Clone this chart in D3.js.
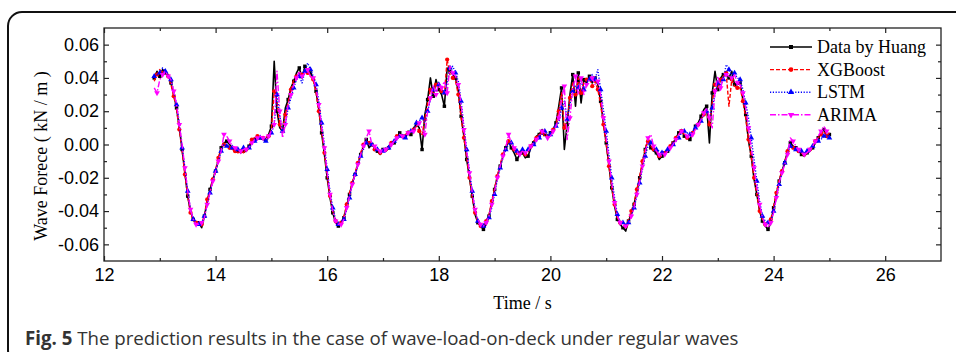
<!DOCTYPE html>
<html>
<head>
<meta charset="utf-8">
<script src="https://cdn.jsdelivr.net/npm/d3@7"></script>
<style>
  body { margin: 0; background: #fff; }
  svg { display: block; }
</style>
</head>
<body>
<div id="chart"></div>
<script>
// sample times: first point and step (s)
var t0 = 12.9;
var dt = 0.05;

// wave force (kN/m), one value every 0.05 s from 12.90 to 25.00
var huang = [
  0.040, 0.044, 0.041, 0.045, 0.043, 0.042, 0.037, 0.030, 0.022, 0.010,
  -0.003, -0.017, -0.031, -0.040, -0.045, -0.048, -0.047, -0.050, -0.043, -0.034,
  -0.027, -0.021, -0.016, -0.009, -0.002, 0.001, 0.002, 0.000, -0.002, -0.003,
  -0.004, -0.005, -0.004, -0.004, -0.001, 0.002, 0.003, 0.004, 0.004, 0.003,
  0.003, 0.006, 0.011, 0.050, 0.020, 0.010, 0.008, 0.022, 0.027, 0.034,
  0.038, 0.043, 0.046, 0.040, 0.047, 0.044, 0.043, 0.040, 0.032, 0.021,
  0.007, -0.006, -0.020, -0.032, -0.041, -0.047, -0.049, -0.048, -0.044, -0.037,
  -0.030, -0.023, -0.018, -0.012, -0.006, -0.001, 0.003, -0.002, 0.000, -0.002,
  -0.004, -0.006, -0.003, -0.004, -0.002, 0.000, 0.001, 0.004, 0.007, 0.004,
  0.005, 0.008, 0.006, 0.010, 0.012, 0.010, -0.003, 0.018, 0.027, 0.040,
  0.029, 0.039, 0.033, 0.030, 0.023, 0.046, 0.044, 0.042, 0.040, 0.032,
  0.017, 0.005, -0.009, -0.020, -0.031, -0.042, -0.047, -0.049, -0.051, -0.048,
  -0.043, -0.035, -0.027, -0.019, -0.013, -0.007, -0.002, 0.002, -0.002, -0.005,
  -0.009, -0.006, -0.005, -0.008, -0.007, -0.002, 0.001, 0.005, 0.006, 0.009,
  0.006, 0.004, 0.007, 0.009, 0.013, 0.023, 0.034, -0.003, 0.012, 0.030,
  0.042, 0.023, 0.043, 0.025, 0.039, 0.037, 0.041, 0.037, 0.040, 0.036,
  0.026, 0.013, 0.001, -0.013, -0.026, -0.037, -0.045, -0.048, -0.050, -0.052,
  -0.046, -0.042, -0.036, -0.028, -0.020, -0.012, -0.003, 0.003, -0.002, -0.004,
  -0.005, -0.009, -0.007, -0.005, -0.004, -0.002, 0.001, 0.004, 0.007, 0.009,
  0.005, 0.004, 0.003, 0.007, 0.011, 0.013, 0.017, 0.021, 0.023, 0.001,
  0.031, 0.044, 0.033, 0.040, 0.042, 0.043, 0.040, 0.044, 0.036, 0.036,
  0.037, 0.027, 0.018, 0.002, -0.007, -0.021, -0.030, -0.040, -0.046, -0.049,
  -0.051, -0.047, -0.038, -0.030, -0.022, -0.016, -0.011, -0.004, 0.001, -0.001,
  -0.002, -0.003, -0.006, -0.007, -0.005, -0.004, -0.002, 0.001, 0.004, 0.007,
  0.009, 0.005, 0.006
];

var xgboost = [
  0.038, 0.042, 0.045, 0.043, 0.044, 0.041, 0.036, 0.029, 0.021, 0.009,
  -0.004, -0.018, -0.031, -0.041, -0.046, -0.047, -0.047, -0.048, -0.042, -0.033,
  -0.028, -0.021, -0.015, -0.008, -0.002, 0.000, 0.000, -0.002, -0.003, -0.004,
  -0.005, -0.004, -0.005, -0.003, -0.001, 0.003, 0.004, 0.005, 0.003, 0.004,
  0.003, 0.005, 0.009, 0.032, 0.026, 0.012, 0.008, 0.018, 0.025, 0.033,
  0.039, 0.041, 0.043, 0.042, 0.045, 0.043, 0.041, 0.039, 0.031, 0.020,
  0.008, -0.005, -0.019, -0.031, -0.040, -0.046, -0.048, -0.047, -0.043, -0.036,
  -0.029, -0.023, -0.017, -0.011, -0.005, 0.000, 0.002, 0.001, -0.001, -0.003,
  -0.004, -0.005, -0.004, -0.003, -0.001, 0.001, 0.002, 0.005, 0.006, 0.005,
  0.006, 0.007, 0.007, 0.009, 0.011, 0.008, 0.006, 0.015, 0.025, 0.033,
  0.031, 0.036, 0.034, 0.032, 0.030, 0.051, 0.042, 0.040, 0.038, 0.030,
  0.016, 0.004, -0.008, -0.020, -0.032, -0.041, -0.047, -0.049, -0.049, -0.046,
  -0.042, -0.034, -0.026, -0.019, -0.012, -0.006, -0.001, 0.002, 0.000, -0.003,
  -0.006, -0.005, -0.004, -0.006, -0.005, -0.001, 0.002, 0.004, 0.006, 0.007,
  0.005, 0.005, 0.006, 0.009, 0.012, 0.020, 0.031, 0.010, 0.014, 0.028,
  0.037, 0.030, 0.040, 0.031, 0.037, 0.039, 0.040, 0.035, 0.038, 0.033,
  0.024, 0.012, 0.000, -0.013, -0.026, -0.036, -0.044, -0.047, -0.048, -0.049,
  -0.045, -0.040, -0.035, -0.027, -0.019, -0.010, -0.002, 0.002, -0.001, -0.003,
  -0.004, -0.007, -0.006, -0.005, -0.003, -0.001, 0.002, 0.004, 0.006, 0.008,
  0.006, 0.004, 0.005, 0.007, 0.010, 0.012, 0.015, 0.018, 0.021, 0.012,
  0.025, 0.036, 0.034, 0.039, 0.041, 0.043, 0.023, 0.039, 0.035, 0.034,
  0.034, 0.026, 0.016, 0.003, -0.008, -0.020, -0.030, -0.040, -0.045, -0.048,
  -0.048, -0.045, -0.037, -0.029, -0.021, -0.016, -0.010, -0.004, 0.000, -0.002,
  -0.003, -0.004, -0.005, -0.006, -0.005, -0.003, -0.001, 0.002, 0.004, 0.006,
  0.008, 0.005, 0.007
];

var lstm = [
  0.041, 0.042, 0.043, 0.046, 0.044, 0.042, 0.039, 0.032, 0.024, 0.013,
  -0.002, -0.014, -0.028, -0.039, -0.045, -0.048, -0.048, -0.047, -0.043, -0.036,
  -0.029, -0.022, -0.016, -0.010, -0.004, 0.000, -0.001, -0.001, -0.002, -0.002,
  -0.003, -0.003, -0.002, -0.003, -0.002, 0.000, 0.002, 0.003, 0.004, 0.003,
  0.002, 0.004, 0.007, 0.012, 0.030, 0.017, 0.008, 0.012, 0.022, 0.028,
  0.034, 0.039, 0.041, 0.037, 0.044, 0.049, 0.045, 0.041, 0.036, 0.026,
  0.013, 0.000, -0.015, -0.028, -0.038, -0.045, -0.048, -0.047, -0.045, -0.039,
  -0.032, -0.024, -0.018, -0.013, -0.007, -0.003, 0.001, 0.001, 0.000, -0.001,
  -0.003, -0.004, -0.004, -0.002, -0.002, 0.000, 0.002, 0.003, 0.005, 0.006,
  0.004, 0.006, 0.008, 0.009, 0.013, 0.014, 0.016, 0.013, 0.020, 0.027,
  0.033, 0.032, 0.036, 0.034, 0.031, 0.037, 0.046, 0.047, 0.043, 0.038,
  0.026, 0.011, -0.003, -0.016, -0.028, -0.039, -0.046, -0.048, -0.049, -0.047,
  -0.044, -0.038, -0.030, -0.021, -0.014, -0.008, -0.003, 0.000, 0.001, -0.002,
  -0.004, -0.005, -0.003, -0.004, -0.003, -0.001, 0.000, 0.002, 0.004, 0.006,
  0.008, 0.006, 0.006, 0.008, 0.011, 0.013, 0.022, 0.026, 0.015, 0.024,
  0.032, 0.035, 0.034, 0.038, 0.033, 0.037, 0.039, 0.042, 0.039, 0.045,
  0.033, 0.021, 0.008, -0.006, -0.020, -0.032, -0.042, -0.046, -0.047, -0.048,
  -0.047, -0.043, -0.038, -0.031, -0.023, -0.015, -0.007, -0.001, 0.001, -0.001,
  -0.003, -0.004, -0.005, -0.004, -0.003, -0.002, 0.000, 0.002, 0.004, 0.007,
  0.008, 0.007, 0.006, 0.008, 0.010, 0.012, 0.014, 0.018, 0.020, 0.016,
  0.022, 0.030, 0.037, 0.036, 0.039, 0.048, 0.045, 0.041, 0.043, 0.040,
  0.039, 0.033, 0.025, 0.016, 0.004, -0.009, -0.022, -0.034, -0.043, -0.046,
  -0.047, -0.046, -0.040, -0.032, -0.024, -0.017, -0.011, -0.005, -0.001, -0.002,
  -0.003, -0.004, -0.004, -0.005, -0.004, -0.003, -0.001, 0.001, 0.002, 0.003,
  0.005, 0.006, 0.004
];

var arima = [
  0.034, 0.031, 0.039, 0.042, 0.044, 0.041, 0.039, 0.032, 0.024, 0.012,
  0.000, -0.014, -0.028, -0.039, -0.045, -0.048, -0.048, -0.047, -0.044, -0.036,
  -0.029, -0.022, -0.016, -0.010, -0.004, 0.006, 0.005, 0.002, -0.001, -0.002,
  -0.003, -0.004, -0.003, -0.003, -0.002, 0.001, 0.003, 0.004, 0.005, 0.004,
  0.003, 0.005, 0.008, 0.012, 0.044, 0.020, 0.004, 0.012, 0.024, 0.030,
  0.036, 0.040, 0.044, 0.041, 0.043, 0.045, 0.041, 0.040, 0.034, 0.024,
  0.011, -0.002, -0.017, -0.030, -0.040, -0.046, -0.048, -0.048, -0.045, -0.038,
  -0.031, -0.024, -0.018, -0.012, -0.006, -0.001, 0.004, 0.008, 0.000, -0.001,
  -0.003, -0.004, -0.005, -0.003, -0.002, 0.000, 0.002, 0.004, 0.006, 0.005,
  0.005, 0.007, 0.008, 0.008, 0.011, 0.013, 0.010, 0.006, 0.020, 0.028,
  0.036, 0.030, 0.037, 0.034, 0.038, 0.031, 0.047, 0.043, 0.041, 0.036,
  0.024, 0.009, -0.004, -0.017, -0.029, -0.039, -0.045, -0.048, -0.049, -0.047,
  -0.043, -0.036, -0.028, -0.020, -0.013, -0.007, -0.002, 0.006, 0.001, -0.002,
  -0.004, -0.006, -0.004, -0.005, -0.004, -0.001, 0.001, 0.003, 0.005, 0.008,
  0.007, 0.004, 0.005, 0.008, 0.011, 0.016, 0.027, 0.035, 0.003, 0.016,
  0.033, 0.041, 0.030, 0.040, 0.030, 0.036, 0.039, 0.040, 0.036, 0.038,
  0.030, 0.016, 0.004, -0.010, -0.023, -0.035, -0.043, -0.047, -0.049, -0.049,
  -0.048, -0.043, -0.038, -0.030, -0.022, -0.013, -0.005, 0.004, 0.006, -0.001,
  -0.004, -0.006, -0.007, -0.006, -0.004, -0.002, 0.000, 0.003, 0.006, 0.008,
  0.007, 0.005, 0.004, 0.006, 0.009, 0.012, 0.015, 0.019, 0.022, 0.016,
  0.010, 0.032, 0.041, 0.034, 0.040, 0.042, 0.041, 0.040, 0.042, 0.037,
  0.036, 0.031, 0.022, 0.010, -0.002, -0.014, -0.026, -0.036, -0.044, -0.048,
  -0.050, -0.047, -0.041, -0.032, -0.023, -0.017, -0.012, -0.006, 0.004, 0.002,
  -0.001, -0.003, -0.005, -0.006, -0.005, -0.003, -0.001, 0.002, 0.005, 0.008,
  0.011, 0.008, 0.007
];

var seriesNames = ["Data by Huang", "XGBoost", "LSTM", "ARIMA"];
var xTicks = [12, 14, 16, 18, 20, 22, 24, 26];
var xMinor = [13, 15, 17, 19, 21, 23, 25];
var yTicks = [-0.06, -0.04, -0.02, 0.00, 0.02, 0.04, 0.06];
var yMinor = [-0.05, -0.03, -0.01, 0.01, 0.03, 0.05];

var width = 956;
var height = 352;
var plot = {left: 104, top: 28, right: 941, bottom: 261};

var svg = d3.select("#chart")
  .append("svg")
  .attr("width", width)
  .attr("height", height);

// rounded frame round the figure, runs off the right and bottom edges
svg.append("rect")
  .attr("x", 8)
  .attr("y", 12)
  .attr("width", 1000)
  .attr("height", 352)
  .attr("rx", 14)
  .attr("fill", "none")
  .attr("stroke", "#111")
  .attr("stroke-width", 2);

var x = d3.scaleLinear().domain([12, 27]).range([plot.left, plot.right]);
var y = d3.scaleLinear().domain([-0.07, 0.07]).range([plot.bottom, plot.top]);

var styles = [
  {data: huang, color: "#000000", dash: null, width: 1.6, symbol: d3.symbolSquare, size: 12, skip: 0},
  {data: xgboost, color: "#ff0000", dash: "4,2", width: 1.4, symbol: d3.symbolCircle, size: 14, skip: 1},
  {data: lstm, color: "#0000ff", dash: "1.2,1.6", width: 1.4, symbol: d3.symbolTriangle, size: 14, skip: 0},
  {data: arima, color: "#ff00ff", dash: "6,2,1.5,2", width: 1.4, symbol: d3.symbolTriangle, size: 14, skip: 1, flip: true}
];

function pts(values) {
  return values.map(function(v, i) { return [t0 + i * dt, v]; });
}

// axes, all ticks pointing inwards
var axisFont = "'Liberation Sans', Arial, sans-serif";

svg.append("g")
  .attr("transform", "translate(0," + plot.bottom + ")")
  .call(d3.axisBottom(x).tickValues(xTicks).tickFormat(d3.format("d")).tickSizeInner(-5).tickSizeOuter(0).tickPadding(7))
  .call(function(g) { g.select(".domain").remove(); });
svg.append("g")
  .attr("transform", "translate(0," + plot.bottom + ")")
  .call(d3.axisBottom(x).tickValues(xMinor).tickFormat("").tickSizeInner(-3).tickSizeOuter(0))
  .call(function(g) { g.select(".domain").remove(); });
svg.append("g")
  .attr("transform", "translate(0," + plot.top + ")")
  .call(d3.axisTop(x).tickValues(xTicks).tickFormat("").tickSizeInner(-5).tickSizeOuter(0))
  .call(function(g) { g.select(".domain").remove(); });
svg.append("g")
  .attr("transform", "translate(0," + plot.top + ")")
  .call(d3.axisTop(x).tickValues(xMinor).tickFormat("").tickSizeInner(-3).tickSizeOuter(0))
  .call(function(g) { g.select(".domain").remove(); });

svg.append("g")
  .attr("transform", "translate(" + plot.left + ",0)")
  .call(d3.axisLeft(y).tickValues(yTicks).tickFormat(function(d) { return d.toFixed(2); }).tickSizeInner(-5).tickSizeOuter(0).tickPadding(5))
  .call(function(g) { g.select(".domain").remove(); });
svg.append("g")
  .attr("transform", "translate(" + plot.left + ",0)")
  .call(d3.axisLeft(y).tickValues(yMinor).tickFormat("").tickSizeInner(-3).tickSizeOuter(0))
  .call(function(g) { g.select(".domain").remove(); });
svg.append("g")
  .attr("transform", "translate(" + plot.right + ",0)")
  .call(d3.axisRight(y).tickValues(yTicks).tickFormat("").tickSizeInner(-5).tickSizeOuter(0))
  .call(function(g) { g.select(".domain").remove(); });
svg.append("g")
  .attr("transform", "translate(" + plot.right + ",0)")
  .call(d3.axisRight(y).tickValues(yMinor).tickFormat("").tickSizeInner(-3).tickSizeOuter(0))
  .call(function(g) { g.select(".domain").remove(); });

svg.selectAll(".tick line").attr("stroke", "#222").attr("stroke-width", 1.2);
svg.selectAll(".tick text")
  .attr("font-family", axisFont)
  .attr("font-size", 18)
  .attr("fill", "#000");

// plot box
svg.append("rect")
  .attr("x", plot.left)
  .attr("y", plot.top)
  .attr("width", plot.right - plot.left)
  .attr("height", plot.bottom - plot.top)
  .attr("fill", "none")
  .attr("stroke", "#222")
  .attr("stroke-width", 1.3);

// the four series
var line = d3.line()
  .x(function(d) { return x(d[0]); })
  .y(function(d) { return y(d[1]); });

var lines = svg.append("g");
styles.forEach(function(s) {
  var data = pts(s.data);
  lines.append("path")
    .datum(data)
    .attr("d", line)
    .attr("fill", "none")
    .attr("stroke", s.color)
    .attr("stroke-width", s.width)
    .attr("stroke-dasharray", s.dash)
    .attr("stroke-linejoin", "round");

  lines.append("g")
    .selectAll("path")
    .data(data.filter(function(d, i) { return i % 2 === s.skip; }))
    .enter()
    .append("path")
    .attr("d", d3.symbol().type(s.symbol).size(s.size))
    .attr("transform", function(d) {
      return "translate(" + x(d[0]) + "," + y(d[1]) + ")" + (s.flip ? " rotate(180)" : "");
    })
    .attr("fill", s.color);
});

// legend
var legend = svg.append("g");
seriesNames.forEach(function(name, i) {
  var s = styles[i];
  var ly = 47 + i * 22.6;
  legend.append("line")
    .attr("x1", 770).attr("x2", 812)
    .attr("y1", ly).attr("y2", ly)
    .attr("stroke", s.color)
    .attr("stroke-width", s.width)
    .attr("stroke-dasharray", s.dash);
  legend.append("path")
    .attr("d", d3.symbol().type(s.symbol).size(s.size + 4))
    .attr("transform", "translate(791," + ly + ")" + (s.flip ? " rotate(180)" : ""))
    .attr("fill", s.color);
  legend.append("text")
    .attr("x", 817)
    .attr("y", ly + 6)
    .attr("font-family", "'Liberation Serif', 'Times New Roman', serif")
    .attr("font-size", 18)
    .text(name);
});

// axis titles
svg.append("text")
  .attr("x", (plot.left + plot.right) / 2)
  .attr("y", 309)
  .attr("text-anchor", "middle")
  .attr("font-family", "'Liberation Serif', 'Times New Roman', serif")
  .attr("font-size", 18)
  .text("Time / s");

svg.append("text")
  .attr("transform", "translate(47,156) rotate(-90)")
  .attr("text-anchor", "middle")
  .attr("font-family", "'Liberation Serif', 'Times New Roman', serif")
  .attr("font-size", 18)
  .text("Wave Forece ( kN / m )");

// caption
var caption = svg.append("text")
  .attr("x", 25)
  .attr("y", 345)
  .attr("font-family", "'Open Sans', 'Noto Sans', sans-serif")
  .attr("font-size", 17)
  .attr("fill", "#333");
caption.append("tspan").attr("font-weight", "bold").text("Fig. 5");
caption.append("tspan").text(" The prediction results in the case of wave-load-on-deck under regular waves");
var capLen = caption.node().getComputedTextLength();
caption.attr("font-size", 17 * 714 / capLen);
</script>
</body>
</html>
